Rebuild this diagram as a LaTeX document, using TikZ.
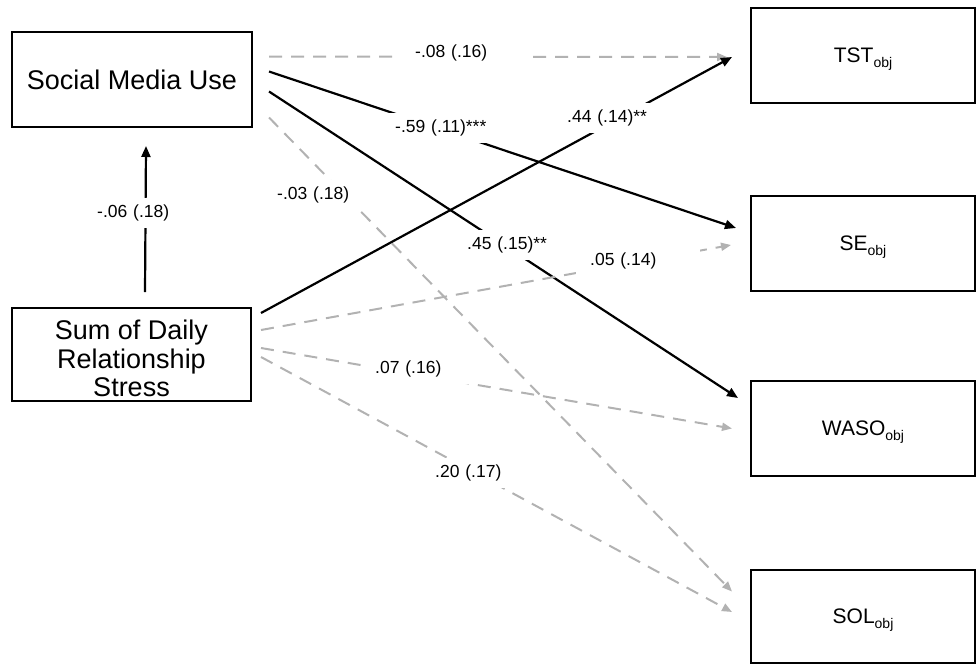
\documentclass[tikz,border=0pt]{standalone}
\usepackage{fontspec}
\setmainfont{Liberation Sans}
\usetikzlibrary{arrows.meta}
\definecolor{pathgray}{RGB}{178,178,178}
\begin{document}
\begin{tikzpicture}[x=1pt,y=-1pt,
  leftbox/.style={draw=black,line width=2pt,minimum width=240pt,minimum height=95pt,inner sep=0pt,align=center,font=\fontsize{27}{28.5}\selectfont},
  rightbox/.style={draw=black,line width=2pt,minimum width=224pt,minimum height=95pt,inner sep=0pt,font=\fontsize{21}{24}\selectfont},
  sig/.style={draw=black,line width=2.2pt,-{Triangle[length=11pt,width=9pt]}},
  nonsig/.style={draw=pathgray,line width=2pt,dash pattern=on 13pt off 9pt,-{Triangle[length=10pt,width=8pt]}},
  coef/.style={fill=white,anchor=west,text width=96pt,align=left,inner xsep=14pt,inner ysep=7pt,text height=12.5pt,text depth=3.5pt,font=\fontsize{17.5}{20}\selectfont},
]
\useasboundingbox (0,0) rectangle (976,664);
\newcommand{\sbs}[1]{\raisebox{-5pt}[0pt][0pt]{\fontsize{14}{14}\selectfont #1}}

\node[leftbox] (smu) at (132,79.5) {Social Media Use};
\node[leftbox,minimum width=239pt,minimum height=93pt] (sum) at (131.5,354.5) {\raisebox{-4pt}[\height][\depth]{\parbox{230pt}{\centering Sum of Daily\\Relationship\\Stress}}};
\node[rightbox] (tst) at (863,55.5) {TST\sbs{obj}};
\node[rightbox] (se) at (863,243) {SE\sbs{obj}};
\node[rightbox] (waso) at (863,428.5) {WASO\sbs{obj}};
\node[rightbox,minimum height=93pt] (sol) at (863,616.5) {SOL\sbs{obj}};

% connectors
\draw[nonsig] ([shift={(16,-23)}]smu.east) -- ([shift={(-23,1.5)}]tst.west);
\draw[sig] ([shift={(16,-8)}]smu.east) -- ([shift={(-14,-15)}]se.west);
\draw[sig] ([shift={(16,12)}]smu.east) -- ([shift={(-12,-30.5)}]waso.west);
\draw[nonsig] ([shift={(16,38)}]smu.east) -- ([shift={(-18,-25)}]sol.west);
\draw[sig] ([shift={(9,-41.5)}]sum.east) -- ([shift={(-18,1.5)}]tst.west);
\draw[nonsig] ([shift={(9,-24.5)}]sum.east) -- ([shift={(-19,2)}]se.west);
\draw[nonsig] ([shift={(9,-6.5)}]sum.east) -- ([shift={(-18,0)}]waso.west);
\draw[nonsig] ([shift={(9,2.5)}]sum.east) -- ([shift={(-18,-4.5)}]sol.west);
\draw[sig] ([shift={(13.5,-15)}]sum.north) -- ([shift={(14,18)}]smu.south);

% coefficient labels
\node[coef] (l1) at (401,53) {-.08 (.16)};
\node[coef] (l2) at (381,128) {-.59 (.11)***};
\node[coef] (l3) at (553,118) {.44 (.14)**};
\node[coef] (l4) at (263,195) {-.03 (.18)};
\node[coef] (l5) at (453,245) {.45 (.15)**};
\node[coef] (l6) at (576,261) {.05 (.14)};
\node[coef] (l7) at (361,369) {.07 (.16)};
\node[coef] (l8) at (421,473) {.20 (.17)};
\node[coef] (l9) at (83,213) {-.06 (.18)};
\end{tikzpicture}
\end{document}
